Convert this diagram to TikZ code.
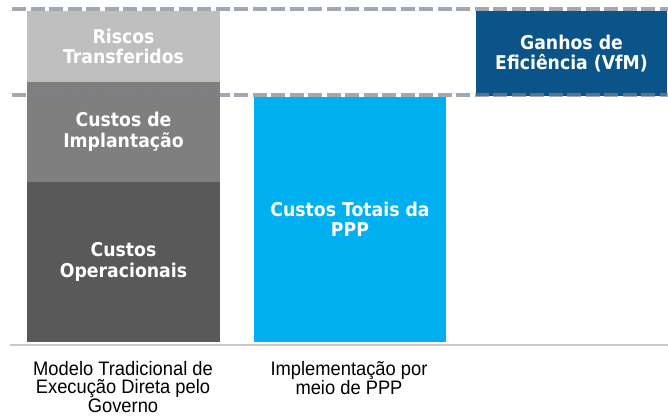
\documentclass[tikz,border=0pt]{standalone}
\usepackage{fontspec}
\newfontfamily\boldlab[FakeStretch=0.91]{DejaVu Sans}
\newfontfamily\narrowlab[FakeStretch=0.94]{Liberation Sans}
\definecolor{riscos}{HTML}{BFBFBF}
\definecolor{implant}{HTML}{7F7F7F}
\definecolor{operac}{HTML}{595959}
\definecolor{pppblue}{HTML}{00B0F0}
\definecolor{vfmblue}{HTML}{0B5489}
\definecolor{dashgray}{RGB}{119,131,148}
\definecolor{basegray}{HTML}{C8C8C8}
\begin{document}
\begin{tikzpicture}[x=1pt,y=-1pt,
  seg/.style={anchor=north west,inner sep=0pt,outer sep=0pt,draw=none,
    text=white,align=center,
    font=\boldlab\bfseries\fontsize{19}{20.5}\selectfont},
  caption/.style={align=center,inner sep=0pt,
    font=\narrowlab\fontsize{19.5}{18.6}\selectfont},
  guide/.style={draw=dashgray,opacity=0.7,line width=4pt,dash pattern=on 14pt off 4.5pt},
  baseline/.style={draw=basegray,line width=2pt}]
\useasboundingbox (0,0) rectangle (668,416);
% bars
\node[seg,fill=riscos,minimum width=193pt,minimum height=71pt] (riscos) at (27,11) {Riscos\\Transferidos};
\node[seg,fill=implant,minimum width=193pt,minimum height=100pt] (implant) at (27,82) {Custos de\\Implantação};
\node[seg,fill=operac,minimum width=193pt,minimum height=160pt] (operac) at (27,182) {Custos\\Operacionais};
\node[seg,fill=pppblue,minimum width=192pt,minimum height=245pt] (ppp) at (254,97) {Custos Totais da\\PPP};
\node[seg,fill=vfmblue,minimum width=191pt,minimum height=85pt] (vfm) at (476,11) {Ganhos de\\Eficiência (VfM)};
% guides
\coordinate (g1a) at (12,9);
\coordinate (g1b) at (668,9);
\coordinate (g2a) at (12,95);
\coordinate (g2b) at (668,95);
\draw[guide] (g1a) -- (g1b);
\draw[guide] (g2a) -- (g2b);
% baseline
\coordinate (b1) at (10,344.5);
\coordinate (b2) at (668,344.5);
\draw[baseline] (b1) -- (b2);
% captions
\node[caption] (cap1) at (123,387) {Modelo Tradicional de\\Execução Direta pelo\\Governo};
\node[caption] (cap2) at (349,378) {Implementação por\\meio de PPP};
\end{tikzpicture}
\end{document}
